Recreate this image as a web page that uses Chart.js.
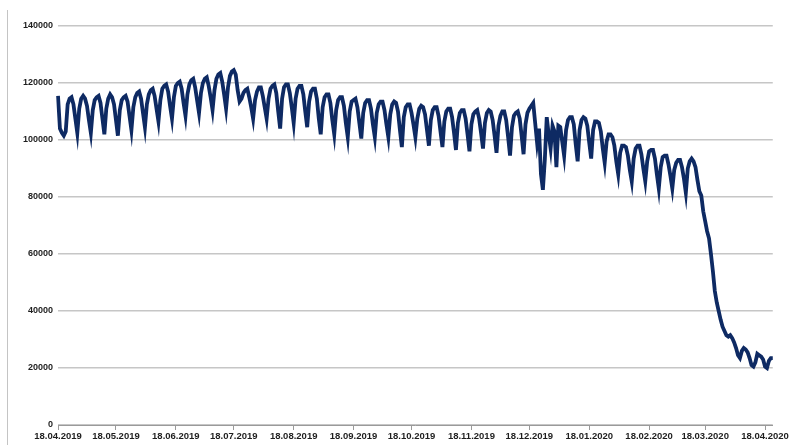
<!DOCTYPE html>
<html>
<head>
<meta charset="utf-8">
<script src="https://cdn.jsdelivr.net/npm/chart.js@4/dist/chart.umd.min.js"></script>
<style>
  html, body { margin: 0; padding: 0; background: #fff; }
  #wrap { position: relative; width: 790px; height: 445px; }
  #edge { position: absolute; left: 7px; top: 10px; width: 1px; height: 435px; background: #c4c4c4; }
  canvas { position: absolute; left: 0; top: 0; }
</style>
</head>
<body>
<div id="wrap">
  <div id="edge"></div>
  <canvas id="myChart" width="790" height="445"></canvas>
</div>
<script>
"use strict";

// first day of the series, one value per day after that
const startYear = 2019;
const startMonth = 3; // April (0-based)
const startDay = 18;

// labels shown under the x axis
const tickLabels = [
  "18.04.2019", "18.05.2019", "18.06.2019", "18.07.2019", "18.08.2019",
  "18.09.2019", "18.10.2019", "18.11.2019", "18.12.2019", "18.01.2020",
  "18.02.2020", "18.03.2020", "18.04.2020"
];

const yTicks = [0, 20000, 40000, 60000, 80000, 100000, 120000, 140000];

// daily values, one row per week (Thu..Wed)
const dailyValues = [
  115500, 104000, 102500, 101500, 103000, 112500, 114500,
  115000, 112500, 107500, 102500, 111000, 114500, 115500,
  114500, 112000, 107000, 102500, 110500, 114000, 115000,
  115500, 113000, 107500, 102000, 111000, 114500, 116000,
  115000, 112500, 107000, 101500, 110500, 114000, 115000,
  115500, 113500, 108500, 103500, 111500, 115000, 116500,
  117000, 114500, 109500, 104500, 112500, 116000, 117500,
  118000, 115500, 111000, 106500, 114000, 118000, 119000,
  119500, 117000, 112000, 107500, 115000, 119000, 120000,
  120500, 118000, 113000, 108500, 116000, 119500, 121000,
  121500, 118500, 114000, 109500, 116500, 120000, 121500,
  122000, 119000, 115000, 110500, 117500, 121500, 123000,
  123500, 120500, 116000, 111000, 118500, 122500, 124000,
  124500, 123000, 117500, 113500, 114500, 116500, 117500,
  118000, 115000, 111500, 107500, 114000, 117000, 118500,
  118500, 115500, 111500, 107500, 114500, 118000, 119000,
  119500, 116500, 110000, 104000, 114500, 118500, 119500,
  119500, 116500, 111500, 106000, 114500, 118000, 119000,
  119000, 116000, 110000, 104500, 113500, 117000, 118000,
  118000, 114500, 107500, 102000, 111500, 115000, 116000,
  116000, 113000, 107000, 102000, 110500, 114000, 115000,
  115000, 112000, 106000, 101000, 110000, 113500, 114000,
  114500, 111500, 106000, 100500, 109500, 113000, 114000,
  114000, 111000, 105500, 101000, 109500, 112500, 113500,
  113500, 110500, 105500, 101000, 109000, 112500, 113500,
  113000, 110000, 103500, 97500, 108000, 111500, 112500,
  112500, 109500, 105500, 101000, 107500, 111000, 112000,
  111500, 109000, 103500, 98000, 107000, 110500, 111500,
  111500, 108500, 103000, 97500, 106500, 110000, 111000,
  111000, 108000, 102500, 96500, 106000, 109500, 110500,
  110500, 107500, 102000, 96000, 105500, 109000, 110000,
  110500, 107500, 102500, 97000, 106000, 109500, 110500,
  110000, 107000, 101500, 95500, 105000, 108500, 110000,
  110000, 107000, 101000, 94500, 104500, 108500, 109500,
  110000, 107500, 101500, 95000, 105500, 109500, 111000,
  112000, 113000, 106000, 99000, 104000, 88000, 82500,
  93000, 108000, 102000, 97000, 105000, 103000, 90500,
  105000, 104500, 99500, 94500, 103500, 107000, 108000,
  108000, 105500, 98500, 92500, 103500, 107000, 108000,
  107500, 105000, 99000, 93500, 103500, 106500, 106500,
  106000, 103000, 97000, 92000, 99500, 102000, 102000,
  101000, 98000, 92500, 88000, 95500, 98000, 98000,
  97500, 94500, 89500, 85500, 93500, 97000, 98000,
  98000, 95000, 90000, 85500, 92500, 96000, 96500,
  96500, 93500, 88000, 83000, 90500, 94000, 94500,
  94500, 91500, 87500, 83000, 89500, 92000, 93000,
  93000, 90500, 86500, 81500, 90000, 92500, 93500,
  92500, 90500, 86000, 82000, 80500, 75000, 71500,
  68000, 65500, 60000, 54000, 47000, 43000, 40000,
  37000, 34500, 33000, 31500, 31000, 31500, 30500,
  29000, 27000, 24500, 23500, 26000, 27000, 26500,
  25500, 23500, 21000, 20500, 22000, 25000, 24500,
  24000, 23000, 20500, 20000, 22500, 23500, 23500
];

function formatDate(d) {
  const dd = String(d.getDate()).padStart(2, '0');
  const mm = String(d.getMonth() + 1).padStart(2, '0');
  return `${dd}.${mm}.${d.getFullYear()}`;
}

const dayLabels = dailyValues.map((v, i) => formatDate(new Date(startYear, startMonth, startDay + i)));

const textColor = "#1e1e1e";
const gridColor = "#c6c6c6";

const ctx = document.getElementById("myChart").getContext("2d");

new Chart(ctx, {
  type: "line",
  data: {
    labels: dayLabels,
    datasets: [
      {
        data: dailyValues,
        borderColor: "#0e2a63",
        borderWidth: 3.8,
        pointRadius: 0,
        tension: 0,
        fill: false
      }
    ]
  },
  options: {
    responsive: false,
    animation: false,
    devicePixelRatio: 1,
    layout: {
      padding: { top: 26, right: 17, left: 0, bottom: 0 }
    },
    plugins: {
      legend: { display: false },
      tooltip: { enabled: false }
    },
    scales: {
      x: {
        type: "category",
        offset: false,
        grid: {
          display: true,
          drawOnChartArea: false,
          drawTicks: true,
          tickLength: 5,
          color: "#9a9a9a"
        },
        border: { display: true, color: "#9a9a9a", width: 1 },
        ticks: {
          autoSkip: false,
          maxRotation: 0,
          minRotation: 0,
          padding: 1,
          color: textColor,
          font: { family: "'Liberation Sans', Arial, sans-serif", size: 9.5, weight: "bold" },
          callback: function (value) {
            const label = this.getLabelForValue(value);
            return tickLabels.includes(label) ? label : null;
          }
        },
        afterFit: (scale) => { scale.height = 20; }
      },
      y: {
        min: 0,
        max: 140000,
        afterBuildTicks: (scale) => { scale.ticks = yTicks.map(v => ({ value: v })); },
        grid: {
          color: gridColor,
          lineWidth: 1.5,
          drawTicks: false
        },
        border: { display: false },
        ticks: {
          padding: 5,
          color: textColor,
          font: { family: "'Liberation Sans', Arial, sans-serif", size: 9, weight: "bold" },
          callback: (value) => String(value)
        },
        afterFit: (scale) => { scale.width = 58; }
      }
    }
  }
});
</script>
</body>
</html>
